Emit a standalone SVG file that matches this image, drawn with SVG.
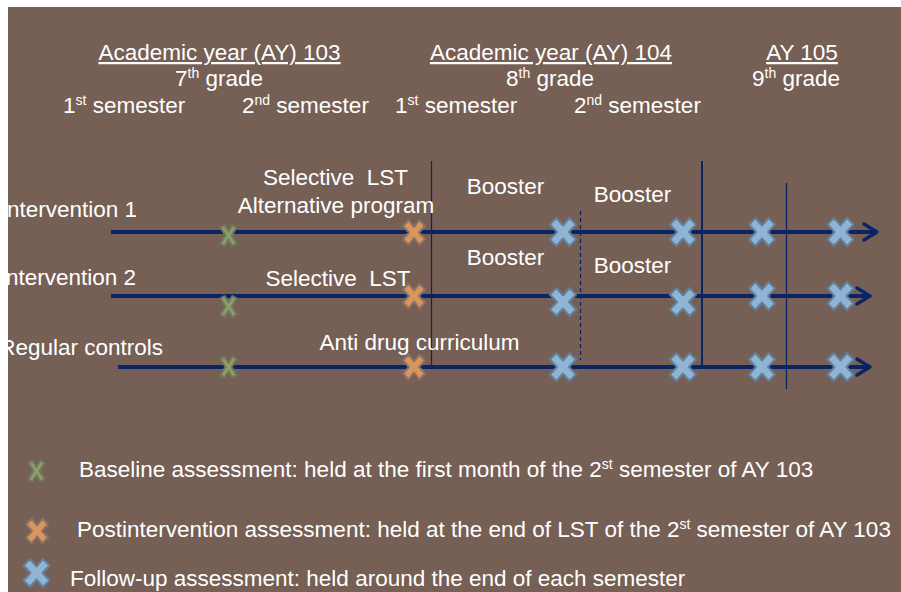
<svg xmlns="http://www.w3.org/2000/svg" width="901" height="592" viewBox="0 0 901 592">
<style>
text{font-family:"Liberation Sans",Arial,sans-serif;font-size:22.5px;fill:#ffffff}
.mid{text-anchor:middle}
.end{text-anchor:end}
.ul{text-decoration:underline}
.tl{stroke:#0b2466;stroke-width:4;fill:none}
.ah{stroke:#0b2466;stroke-width:3.5;fill:none;stroke-linecap:round;stroke-linejoin:round}
.vl{stroke:#0b2466;fill:none}
.sup{font-size:14px}
</style>
<defs>
<path id="xb" d="M-13,-7.5 L-6.5,-14 L0,-6.5 L6.5,-14 L13,-7.5 L6,0 L13,7.5 L6.5,14 L0,6.5 L-6.5,14 L-13,7.5 L-6,0 Z" fill="#8fb4d4" stroke="#62809a" stroke-width="2" stroke-linejoin="round"/>
<path id="xo" d="M-11,-6.5 L-5.5,-12.5 L0,-5.5 L5.5,-12.5 L11,-6.5 L5,0 L11,6.5 L5.5,12.5 L0,5.5 L-5.5,12.5 L-11,6.5 L-5,0 Z" fill="#d8955c" stroke="#8c7264" stroke-width="2" stroke-linejoin="round"/>
<path id="xg" d="M-8,-8 L-4,-10.5 L0,-4 L4,-10.5 L8,-8 L3,0 L8,8 L4,10.5 L0,4 L-4,10.5 L-8,8 L-3,0 Z" fill="#8e9c6e" stroke="#6f7b5b" stroke-width="2" stroke-linejoin="round"/>
</defs>
<rect x="0" y="0" width="901" height="592" fill="#ffffff"/>
<rect x="8" y="7" width="893" height="585" fill="#765f55"/>

<g id="header">
<text class="mid ul" x="219.5" y="60">Academic year (AY) 103</text>
<text class="mid" x="219" y="86">7<tspan class="sup" dy="-8">th</tspan><tspan dy="8"> grade</tspan></text>
<text x="63" y="113">1<tspan class="sup" dy="-8">st</tspan><tspan dy="8"> semester</tspan></text>
<text x="242" y="113">2<tspan class="sup" dy="-8">nd</tspan><tspan dy="8"> semester</tspan></text>
<text class="mid ul" x="551" y="60">Academic year (AY) 104</text>
<text class="mid" x="550" y="86">8<tspan class="sup" dy="-8">th</tspan><tspan dy="8"> grade</tspan></text>
<text x="395" y="113">1<tspan class="sup" dy="-8">st</tspan><tspan dy="8"> semester</tspan></text>
<text x="574" y="113">2<tspan class="sup" dy="-8">nd</tspan><tspan dy="8"> semester</tspan></text>
<text class="mid ul" x="802" y="60">AY 105</text>
<text class="mid" x="796" y="86">9<tspan class="sup" dy="-8">th</tspan><tspan dy="8"> grade</tspan></text>
</g>

<g id="connectors">
<line class="vl" x1="431.5" y1="161" x2="431.5" y2="367" stroke-width="1.2"/>
<line class="vl" x1="580.5" y1="211" x2="580.5" y2="360" stroke-width="1.2" stroke-dasharray="4 3"/>
<line class="vl" x1="702" y1="161" x2="702" y2="367" stroke-width="2"/>
<line class="vl" x1="786.5" y1="183" x2="786.5" y2="389" stroke-width="1.3"/>
<line class="tl" x1="111" y1="232" x2="876" y2="232"/>
<polyline class="ah" points="864,224 877,232 864,240"/>
<line class="tl" x1="111" y1="296" x2="869" y2="296"/>
<polyline class="ah" points="857,288 870,296 857,304"/>
<line class="tl" x1="118" y1="367" x2="869" y2="367"/>
<polyline class="ah" points="857,359 870,367 857,375"/>
</g>

<g id="intervention1">
<text class="end" x="137" y="217">Intervention 1</text>
<text class="mid" x="335.5" y="185" xml:space="preserve">Selective  LST</text>
<text class="mid" x="336" y="213">Alternative program</text>
<text class="mid" x="505.5" y="194">Booster</text>
<text class="mid" x="632.5" y="202">Booster</text>
<use href="#xg" x="228.5" y="235.5"/>
<use href="#xo" x="414" y="232.5"/>
<use href="#xb" x="563" y="232"/>
<use href="#xb" x="683" y="232"/>
<use href="#xb" x="762" y="232"/>
<use href="#xb" x="840.5" y="232"/>
</g>

<g id="intervention2">
<text class="end" x="136" y="285">Intervention 2</text>
<text class="mid" x="338" y="286" xml:space="preserve">Selective  LST</text>
<text class="mid" x="505.5" y="265">Booster</text>
<text class="mid" x="632.5" y="273">Booster</text>
<use href="#xg" x="228.5" y="306.5"/>
<use href="#xo" x="414" y="296"/>
<use href="#xb" x="563" y="302"/>
<use href="#xb" x="683" y="302"/>
<use href="#xb" x="762" y="296"/>
<use href="#xb" x="840.5" y="296"/>
</g>

<g id="controls">
<text class="end" x="163" y="355">Regular controls</text>
<text class="mid" x="419.5" y="350">Anti drug curriculum</text>
<use href="#xg" x="228.5" y="367"/>
<use href="#xo" x="414" y="367"/>
<use href="#xb" x="563" y="367"/>
<use href="#xb" x="683" y="367"/>
<use href="#xb" x="762" y="367"/>
<use href="#xb" x="840.5" y="367"/>
</g>

<g id="legend">
<use href="#xg" x="36.5" y="471"/>
<text x="79" y="477">Baseline assessment: held at the first month of the 2<tspan class="sup" dy="-8">st</tspan><tspan dy="8"> semester of AY 103</tspan></text>
<use href="#xo" x="37" y="531"/>
<text x="77" y="537">Postintervention assessment: held at the end of LST of the 2<tspan class="sup" dy="-8">st</tspan><tspan dy="8"> semester of AY 103</tspan></text>
<use href="#xb" x="36.5" y="573"/>
<text x="70" y="586">Follow-up assessment: held around the end of each semester</text>
</g>
</svg>
